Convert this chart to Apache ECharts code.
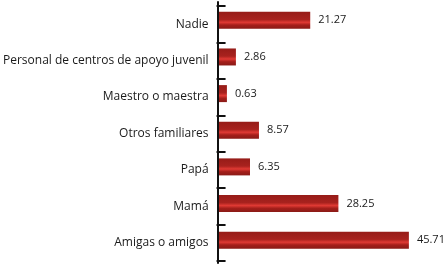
<!DOCTYPE html>
<html>
<head>
<meta charset="utf-8">
<script src="https://cdn.jsdelivr.net/npm/echarts@6/dist/echarts.min.js"></script>
<style>
  html, body { margin: 0; padding: 0; background: #fff; }
  #chart { width: 446px; height: 266px; }
</style>
</head>
<body>
<div id="chart"></div>
<script>
var categories = ['Nadie', 'Personal de centros de apoyo juvenil', 'Maestro o maestra', 'Otros familiares', 'Papá', 'Mamá', 'Amigas o amigos']
var values = [21.27, 2.86, 0.63, 8.57, 6.35, 28.25, 45.71]

var chart = echarts.init(document.getElementById('chart'))

// las barras del original arrancan un poco antes del cero
var xMin = -1.33
var xMax = 50

// degradado vertical tipo "cilindro" de las barras
var barColor = new echarts.graphic.LinearGradient(0, 0, 0, 1, [
  { offset: 0, color: '#961c18' },
  { offset: 0.45, color: '#a8221e' },
  { offset: 0.62, color: '#e03a34' },
  { offset: 0.78, color: '#a41f1b' },
  { offset: 1, color: '#8a1a16' }
])

var hiddenX = { type: 'value', min: 0, max: 1, show: false }

chart.setOption({
  animation: false,
  grid: [
    // eje con marcas y etiquetas
    { left: 218, right: 20, top: 6, bottom: 5 },
    // barras
    { left: 219, right: 19.8, top: 2, bottom: 7.5 },
    // linea del eje
    { left: 218, right: 20, top: 2, bottom: 3 }
  ],
  xAxis: [
    Object.assign({ gridIndex: 0 }, hiddenX),
    { gridIndex: 1, type: 'value', min: xMin, max: xMax, show: false },
    Object.assign({ gridIndex: 2 }, hiddenX)
  ],
  yAxis: [
    {
      gridIndex: 0,
      type: 'category',
      inverse: true,
      data: categories,
      axisLine: { show: false },
      axisTick: { show: true, length: 9, lineStyle: { color: '#111', width: 2 } },
      axisLabel: {
        color: '#1a1a1a',
        fontSize: 12,
        fontFamily: 'Open Sans',
        margin: 17,
        padding: [4, 0, 0, 0]
      }
    },
    {
      gridIndex: 1,
      type: 'category',
      inverse: true,
      data: categories,
      show: false
    },
    {
      gridIndex: 2,
      type: 'category',
      inverse: true,
      data: categories,
      axisLine: { show: true, lineStyle: { color: '#111', width: 2 } },
      axisTick: { show: false },
      axisLabel: { show: false }
    }
  ],
  series: [
    {
      type: 'custom',
      xAxisIndex: 1,
      yAxisIndex: 1,
      encode: { x: 0, y: 1 },
      data: values.map(function (v, i) { return [v, i] }),
      renderItem: function (params, api) {
        var v = api.value(0)
        var cat = api.value(1)
        var start = api.coord([xMin, cat])
        var end = api.coord([v, cat])
        var h = 17
        return {
          type: 'rect',
          shape: { x: start[0], y: end[1] - h / 2, width: end[0] - start[0], height: h },
          style: { fill: barColor },
          textContent: {
            style: {
              text: String(v),
              fill: '#1a1a1a',
              fontSize: 11,
              fontFamily: 'Open Sans',
              padding: [3, 0, 0, 0]
            }
          },
          textConfig: { position: 'right', distance: 8 }
        }
      }
    }
  ]
})
</script>
</body>
</html>
